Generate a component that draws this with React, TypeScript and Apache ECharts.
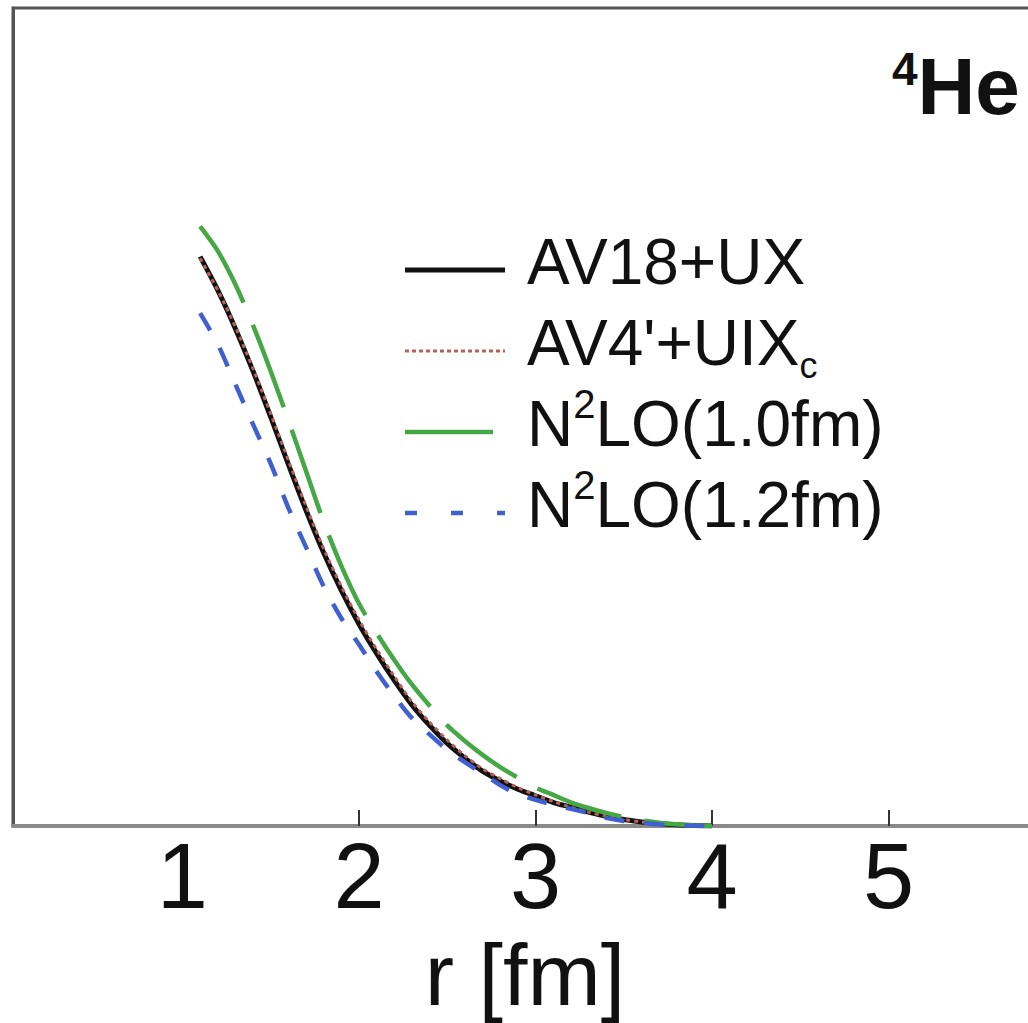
import React, { useEffect, useRef } from "react";
import * as echarts from "echarts";

const rValues = [1.1, 1.2, 1.3, 1.4, 1.5, 1.6, 1.7, 1.8, 1.9, 2.0, 2.1, 2.2, 2.3, 2.4, 2.5, 2.6, 2.7, 2.8, 2.9, 3.0, 3.1, 3.2, 3.3, 3.4, 3.5, 3.6, 3.7, 3.8, 3.9, 4.0];
const av18ux = [0.696, 0.655, 0.608, 0.556, 0.5, 0.442, 0.386, 0.334, 0.288, 0.247, 0.211, 0.178, 0.148, 0.123, 0.101, 0.083, 0.067, 0.055, 0.045, 0.037, 0.029, 0.023, 0.017, 0.012, 0.008, 0.005, 0.003, 0.0015, 0.0005, 0];
const av4uix = [0.694, 0.655, 0.61, 0.559, 0.504, 0.447, 0.391, 0.339, 0.293, 0.252, 0.216, 0.183, 0.152, 0.127, 0.105, 0.086, 0.07, 0.058, 0.047, 0.038, 0.03, 0.023, 0.017, 0.012, 0.008, 0.005, 0.003, 0.0015, 0.0005, 0];
const n2lo10 = [0.733, 0.703, 0.662, 0.612, 0.556, 0.496, 0.434, 0.372, 0.318, 0.272, 0.236, 0.203, 0.173, 0.147, 0.123, 0.104, 0.087, 0.072, 0.059, 0.047, 0.038, 0.029, 0.022, 0.016, 0.011, 0.007, 0.004, 0.002, 0.0006, 0];
const n2lo12 = [0.627, 0.589, 0.54, 0.491, 0.443, 0.389, 0.341, 0.293, 0.254, 0.222, 0.189, 0.159, 0.132, 0.112, 0.093, 0.078, 0.064, 0.05, 0.039, 0.032, 0.026, 0.021, 0.016, 0.01, 0.006, 0.004, 0.002, 0.001, 0.0003, 0];

const seriesNames = ["AV18+UX", "AV4'+UIXc", "N2LO(1.0fm)", "N2LO(1.2fm)"];
const legendLabels = [
  "{m|AV18+UX}",
  "{m|AV4'+UIX}{c|c}",
  "{m|N}{s|2}{m|LO(1.0fm)}",
  "{m|N}{s|2}{m|LO(1.2fm)}",
];
const titleText = "{s|4}{m|He}";
const xName = "r [fm]";
const xTickLabels = [1, 2, 3, 4, 5];
const xTickMarks = [2, 3, 4, 5];

const FONT = "Liberation Sans, Arial, Helvetica, sans-serif";

const lineColors = ["#111111", "#b86058", "#45a845", "#4060d0"];
const lineWidths = [5, 3, 4.5, 4.5];
const lineDashes: (number[] | null)[] = [null, [4, 4], [88, 24], [20, 20]];
const legendDashes: (number[] | null)[] = [null, [4, 3], [88, 24], [12, 34]];
const seriesData = [av18ux, av4uix, n2lo10, n2lo12];

function pairs(ys: number[]) {
  return rValues.map((r, i) => [r, ys[i]]);
}

export default function App() {
  const ref = useRef<HTMLDivElement>(null);
  useEffect(() => {
    if (!ref.current) return;
    const chart = echarts.init(ref.current, undefined, { renderer: "svg" });

    const legendX = 405;
    const legendTop = 270;
    const legendPitch = 81;
    const legendGraphics: any[] = [];
    seriesNames.forEach((_, i) => {
      const cy = legendTop + i * legendPitch;
      legendGraphics.push({
        type: "line",
        shape: { x1: legendX, y1: cy, x2: legendX + 100, y2: cy },
        style: {
          stroke: lineColors[i],
          lineWidth: lineWidths[i],
          lineDash: legendDashes[i] || undefined,
        },
        z: 10,
      });
      legendGraphics.push({
        type: "text",
        x: legendX + 122,
        y: cy - 8,
        style: {
          text: legendLabels[i],
          verticalAlign: "middle",
          align: "left",
          fill: "#111",
          rich: {
            m: { fontSize: 64, fill: "#111", fontFamily: FONT, lineHeight: 81 },
            s: { fontSize: 40, fill: "#111", fontFamily: FONT, verticalAlign: "top", lineHeight: 29 },
            c: { fontSize: 36, fill: "#111", fontFamily: FONT, verticalAlign: "bottom", lineHeight: 12 },
          },
        },
        z: 10,
      });
    });

    chart.setOption({
      animation: false,
      backgroundColor: "#ffffff",
      textStyle: { fontFamily: FONT },
      title: {
        text: titleText,
        left: 892,
        top: 46,
        padding: 0,
        textStyle: {
          rich: {
            s: { fontSize: 46, fontWeight: "bold", color: "#111", fontFamily: FONT, verticalAlign: "top", lineHeight: 30 },
            m: { fontSize: 80, fontWeight: "bold", color: "#111", fontFamily: FONT, lineHeight: 80 },
          },
        },
      },
      grid: {
        show: true,
        borderColor: "#555",
        borderWidth: 3,
        left: 13,
        top: 8,
        width: 1052,
        bottom: 197,
        containLabel: false,
        outerBoundsMode: "none",
      },
      graphic: legendGraphics,
      xAxis: {
        type: "value",
        min: 0.04,
        max: 6,
        splitNumber: 6,
        name: xName,
        nameLocation: "middle",
        nameGap: 104,
        nameTextStyle: { fontSize: 88, color: "#111", fontFamily: FONT, padding: [0, 28, 0, 0] },
        axisLine: { show: true, lineStyle: { color: "#8a8a8a", width: 4 } },
        axisTick: { show: true, inside: true, length: 16, customValues: xTickMarks, lineStyle: { color: "#333", width: 2 } },
        axisLabel: { fontSize: 92, color: "#111", margin: 4, customValues: xTickLabels, showMinLabel: true, showMaxLabel: true, fontFamily: FONT },
        splitLine: { show: false },
      },
      yAxis: {
        type: "value",
        min: 0,
        max: 1,
        axisLine: { show: true, lineStyle: { color: "#555", width: 3 } },
        axisTick: { show: false },
        axisLabel: { show: false },
        splitLine: { show: false },
      },
      series: seriesNames.map((name, i) => ({
        name,
        type: "line",
        data: pairs(seriesData[i]),
        symbol: "none",
        smooth: 0.3,
        z: 2 + i,
        lineStyle: { color: lineColors[i], width: lineWidths[i], type: lineDashes[i] || "solid" },
        itemStyle: { color: lineColors[i] },
      })),
    });
    return () => chart.dispose();
  }, []);
  return <div ref={ref} style={{ position: "absolute", left: 0, top: 0, width: 1028, height: 1023 }} />;
}
